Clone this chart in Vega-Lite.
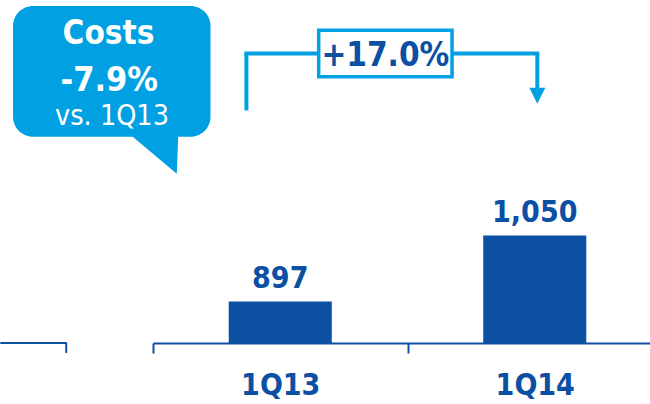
{
  "$schema": "https://vega.github.io/schema/vega-lite/v6.json",
  "width": 650,
  "height": 343,
  "autosize": "none",
  "padding": {"left": 0, "top": 0, "right": 0, "bottom": 61},
  "config": {
    "view": {"stroke": null},
    "font": "'DejaVu Sans Condensed', 'DejaVu Sans', sans-serif",
    "axisX": {
      "title": null, "labelAngle": 0,
      "labelFontSize": 30, "labelFontWeight": "bold", "labelColor": "#0b50a3",
      "labelBaseline": "alphabetic", "labelPadding": 41,
      "tickBand": "extent", "tickSize": 10, "tickColor": "#0b50a3", "tickWidth": 2,
      "domainColor": "#0b50a3", "domainWidth": 2, "grid": false
    }
  },
  "data": {"values": [
    {"quarter": "1Q13", "cost": 897},
    {"quarter": "1Q14", "cost": 1050}
  ]},
  "layer": [
    {
      "mark": {"type": "bar", "color": "#0b50a3", "width": {"band": 0.405}},
      "encoding": {
        "x": {
          "field": "quarter", "type": "nominal",
          "scale": {"domain": ["1Q13", "1Q14"], "range": [153, 662], "paddingInner": 0, "paddingOuter": 0},
          "axis": {"title": null}
        },
        "y": {
          "field": "cost", "type": "quantitative",
          "scale": {"domain": [801, 1596], "zero": false, "nice": false},
          "axis": null
        },
        "y2": {"datum": 801}
      }
    },
    {
      "mark": {"type": "text", "color": "#0b50a3", "fontSize": 30, "fontWeight": "bold", "baseline": "alphabetic", "align": "center", "dy": -14},
      "encoding": {
        "x": {"field": "quarter", "type": "nominal", "axis": {"title": null}},
        "y": {"field": "cost", "type": "quantitative", "axis": null},
        "text": {"field": "cost", "type": "quantitative", "format": ","}
      }
    },
    {
      "data": {"values": [{}]},
      "mark": {"type": "rule", "color": "#0b50a3", "strokeWidth": 2},
      "encoding": {
        "x": {"datum": "1Q13", "type": "nominal", "bandPosition": -0.6, "axis": {"title": null}},
        "x2": {"datum": "1Q13", "bandPosition": -0.339},
        "y": {"datum": 801, "type": "quantitative", "axis": null}
      }
    },
    {
      "data": {"values": [{}]},
      "mark": {"type": "rule", "color": "#0b50a3", "strokeWidth": 2},
      "encoding": {
        "x": {"datum": "1Q13", "type": "nominal", "bandPosition": -0.341, "axis": {"title": null}},
        "y": {"datum": 801, "type": "quantitative", "axis": null},
        "y2": {"datum": 778}
      }
    },
    {
      "data": {"values": [{}]},
      "mark": {"type": "rule", "color": "#00a0e3", "strokeWidth": 4},
      "encoding": {
        "x": {"datum": "1Q13", "type": "nominal", "bandPosition": 0.367, "axis": {"title": null}},
        "y": {"datum": 1472, "type": "quantitative", "axis": null},
        "y2": {"datum": 1340}
      }
    },
    {
      "data": {"values": [{}]},
      "mark": {"type": "rule", "color": "#00a0e3", "strokeWidth": 4},
      "encoding": {
        "x": {"datum": "1Q13", "type": "nominal", "bandPosition": 0.359, "axis": {"title": null}},
        "x2": {"datum": "1Q14", "bandPosition": 0.518},
        "y": {"datum": 1472, "type": "quantitative", "axis": null}
      }
    },
    {
      "data": {"values": [{}]},
      "mark": {"type": "rule", "color": "#00a0e3", "strokeWidth": 4},
      "encoding": {
        "x": {"datum": "1Q14", "type": "nominal", "bandPosition": 0.51, "axis": {"title": null}},
        "y": {"datum": 1472, "type": "quantitative", "axis": null},
        "y2": {"datum": 1383}
      }
    },
    {
      "data": {"values": [{}]},
      "mark": {"type": "point", "shape": "M -1 -1 L 1 -1 L 0 1 Z", "size": 256, "filled": true, "color": "#00a0e3", "opacity": 1, "strokeWidth": 0},
      "encoding": {
        "x": {"datum": "1Q14", "type": "nominal", "bandPosition": 0.51, "axis": {"title": null}},
        "y": {"datum": 1374, "type": "quantitative", "axis": null}
      }
    },
    {
      "data": {"values": [{}]},
      "mark": {"type": "rect", "fill": "white", "stroke": "#00a0e3", "strokeWidth": 3.5},
      "encoding": {
        "x": {"datum": "1Q13", "type": "nominal", "bandPosition": 0.651, "axis": {"title": null}},
        "x2": {"datum": "1Q14", "bandPosition": 0.175},
        "y": {"datum": 1526, "type": "quantitative", "axis": null},
        "y2": {"datum": 1418}
      }
    },
    {
      "data": {"values": [{}]},
      "mark": {"type": "text", "text": "+17.0%", "color": "#0b50a3", "fontSize": 33, "fontWeight": "bold", "baseline": "alphabetic", "align": "center"},
      "encoding": {
        "x": {"datum": "1Q13", "type": "nominal", "bandPosition": 0.913, "axis": {"title": null}},
        "y": {"datum": 1442, "type": "quantitative", "axis": null}
      }
    },
    {
      "data": {"values": [{}]},
      "mark": {"type": "point", "shape": "M -1 -0.76 L 1.02 -0.88 L 0.95 0.88 Z", "size": 2500, "filled": true, "color": "#00a0e3", "opacity": 1, "strokeWidth": 0},
      "encoding": {
        "x": {"datum": "1Q13", "type": "nominal", "bandPosition": 0.0, "axis": {"title": null}},
        "y": {"datum": 1244, "type": "quantitative", "axis": null}
      }
    },
    {
      "data": {"values": [{}]},
      "mark": {"type": "rect", "fill": "#00a0e3", "cornerRadius": 20},
      "encoding": {
        "x": {"datum": "1Q13", "type": "nominal", "bandPosition": -0.55, "axis": {"title": null}},
        "x2": {"datum": "1Q13", "bandPosition": 0.226},
        "y": {"datum": 1582, "type": "quantitative", "axis": null},
        "y2": {"datum": 1279}
      }
    },
    {
      "data": {"values": [{}]},
      "mark": {"type": "text", "text": "Costs", "color": "white", "fontSize": 33, "fontWeight": "bold", "baseline": "alphabetic", "align": "center"},
      "encoding": {
        "x": {"datum": "1Q13", "type": "nominal", "bandPosition": -0.175, "axis": {"title": null}},
        "y": {"datum": 1494, "type": "quantitative", "axis": null}
      }
    },
    {
      "data": {"values": [{}]},
      "mark": {"type": "text", "text": "-7.9%", "color": "white", "fontSize": 34, "fontWeight": "bold", "baseline": "alphabetic", "align": "center"},
      "encoding": {
        "x": {"datum": "1Q13", "type": "nominal", "bandPosition": -0.172, "axis": {"title": null}},
        "y": {"datum": 1385, "type": "quantitative", "axis": null}
      }
    },
    {
      "data": {"values": [{}]},
      "mark": {"type": "text", "text": "vs. 1Q13", "color": "white", "fontSize": 28.5, "fontWeight": "normal", "baseline": "alphabetic", "align": "center"},
      "encoding": {
        "x": {"datum": "1Q13", "type": "nominal", "bandPosition": -0.161, "axis": {"title": null}},
        "y": {"datum": 1306, "type": "quantitative", "axis": null}
      }
    }
  ]
}
